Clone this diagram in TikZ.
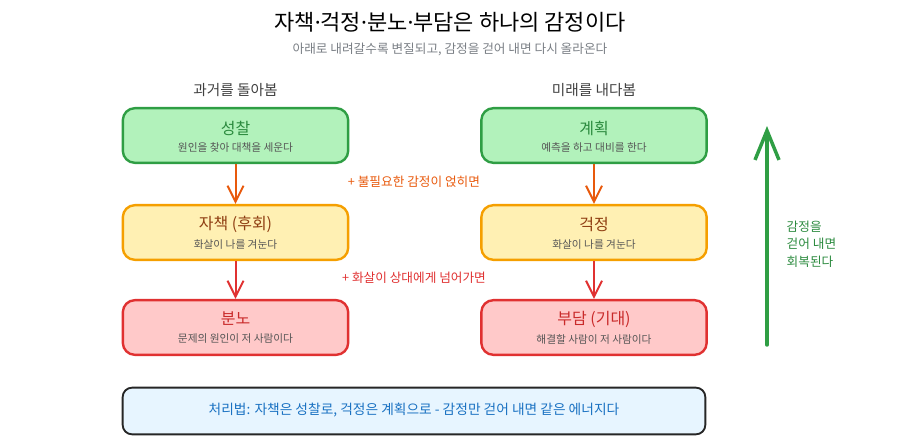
\documentclass[tikz,border=0pt]{standalone}
\usepackage{fontspec}
\setmainfont{Noto Sans CJK KR}
\newfontfamily\latinfont{Noto Sans}
\usetikzlibrary{arrows.meta}
\definecolor{gfill}{HTML}{B2F2BB}\definecolor{gline}{HTML}{2F9E44}\definecolor{gtext}{HTML}{2B8A3E}
\definecolor{yfill}{HTML}{FFF0B3}\definecolor{yline}{HTML}{F59F00}\definecolor{ytext}{HTML}{8F3E12}
\definecolor{rfill}{HTML}{FFC9C9}\definecolor{rline}{HTML}{E03131}\definecolor{rtext}{HTML}{C92A2A}
\definecolor{bfill}{HTML}{E7F5FF}\definecolor{btext}{HTML}{1971C2}
\definecolor{oline}{HTML}{E8590C}
\definecolor{subgray}{HTML}{555555}
\definecolor{lightsub}{HTML}{7A7F85}
\newcommand{\mdot}{{\latinfont ·}}
\tikzset{
  card/.style={draw, line width=1.8pt, rounded corners=9pt, minimum width=169pt, minimum height=41pt, inner sep=0pt},
  gcard/.style={card, fill=gfill, draw=gline},
  ycard/.style={card, fill=yfill, draw=yline},
  rcard/.style={card, fill=rfill, draw=rline},
  ttl/.style={font=\fontsize{12}{14}\selectfont},
  sub/.style={font=\fontsize{8}{9}\selectfont, text=subgray},
  flow/.style={line width=1.5pt, -{Straight Barb[length=12pt,width=12pt,line width=1.5pt]}},
  note/.style={font=\fontsize{9.5}{11}\selectfont},
}
\begin{document}
\begin{tikzpicture}[x=0.75pt,y=-0.75pt]
\useasboundingbox (0,0) rectangle (900,444);
\node (title) at (450,22) {\fontsize{16.5}{19}\selectfont 자책\mdot 걱정\mdot 분노\mdot 부담은 하나의 감정이다};
\node (subt) at (450,49) [text=lightsub] {\fontsize{9.5}{11}\selectfont 아래로 내려갈수록 변질되고, 감정을 걷어 내면 다시 올라온다};
\node (hl) at (235.5,90) [text=darkgray] {\fontsize{11}{13}\selectfont 과거를 돌아봄};
\node (hr) at (594,90) [text=darkgray] {\fontsize{11}{13}\selectfont 미래를 내다봄};

\node[gcard] (a1) at (235.5,135.5) {};
\node[ttl, text=gtext] (a1t) at (235.5,128) {성찰};
\node[sub] (a1s) at (235.5,147) {원인을 찾아 대책을 세운다};
\node[ycard] (a2) at (235.5,232.5) {};
\node[ttl, text=ytext] (a2t) at (235.5,224) {자책 (후회)};
\node[sub] (a2s) at (235.5,244) {화살이 나를 겨눈다};
\node[rcard] (a3) at (235.5,327.5) {};
\node[ttl, text=rtext] (a3t) at (235.5,319) {분노};
\node[sub] (a3s) at (235.5,339) {문제의 원인이 저 사람이다};

\node[gcard] (b1) at (594,135.5) {};
\node[ttl, text=gtext] (b1t) at (594,128) {계획};
\node[sub] (b1s) at (594,147) {예측을 하고 대비를 한다};
\node[ycard] (b2) at (594,232.5) {};
\node[ttl, text=ytext] (b2t) at (594,224) {걱정};
\node[sub] (b2s) at (594,244) {화살이 나를 겨눈다};
\node[rcard] (b3) at (594,327.5) {};
\node[ttl, text=rtext] (b3t) at (594,319) {부담 (기대)};
\node[sub] (b3s) at (594,339) {해결할 사람이 저 사람이다};

\draw[flow, oline] (a1) -- (a2);
\draw[flow, rline] (a2) -- (a3);
\draw[flow, oline] (b1) -- (b2);
\draw[flow, rline] (b2) -- (b3);

\node[note, text=oline] (l1) at (414,182) {+ 불필요한 감정이 얹히면};
\node[note, text=rline] (l2) at (414,278) {+ 화살이 상대에게 넘어가면};

\coordinate (gb) at (767,345);
\coordinate (gt) at (767,126);
\draw[line width=2.6pt, gline, line cap=round, -{Straight Barb[length=22pt,width=18pt,line width=2.6pt]}] (gb) -- (gt);
\node[note, text=gtext, align=left, anchor=west, font=\fontsize{9.5}{13}\selectfont] (gl) at (782,244) {감정을\\걷어 내면\\회복된다};

\node[draw=black!85, line width=1.4pt, fill=bfill, rounded corners=7pt, minimum width=437pt, minimum height=35pt] (tip) at (414,411) {};
\node[text=btext] (tipt) at (414,410) {\fontsize{10.3}{12}\selectfont 처리법: 자책은 성찰로, 걱정은 계획으로 - 감정만 걷어 내면 같은 에너지다};
\end{tikzpicture}
\end{document}
